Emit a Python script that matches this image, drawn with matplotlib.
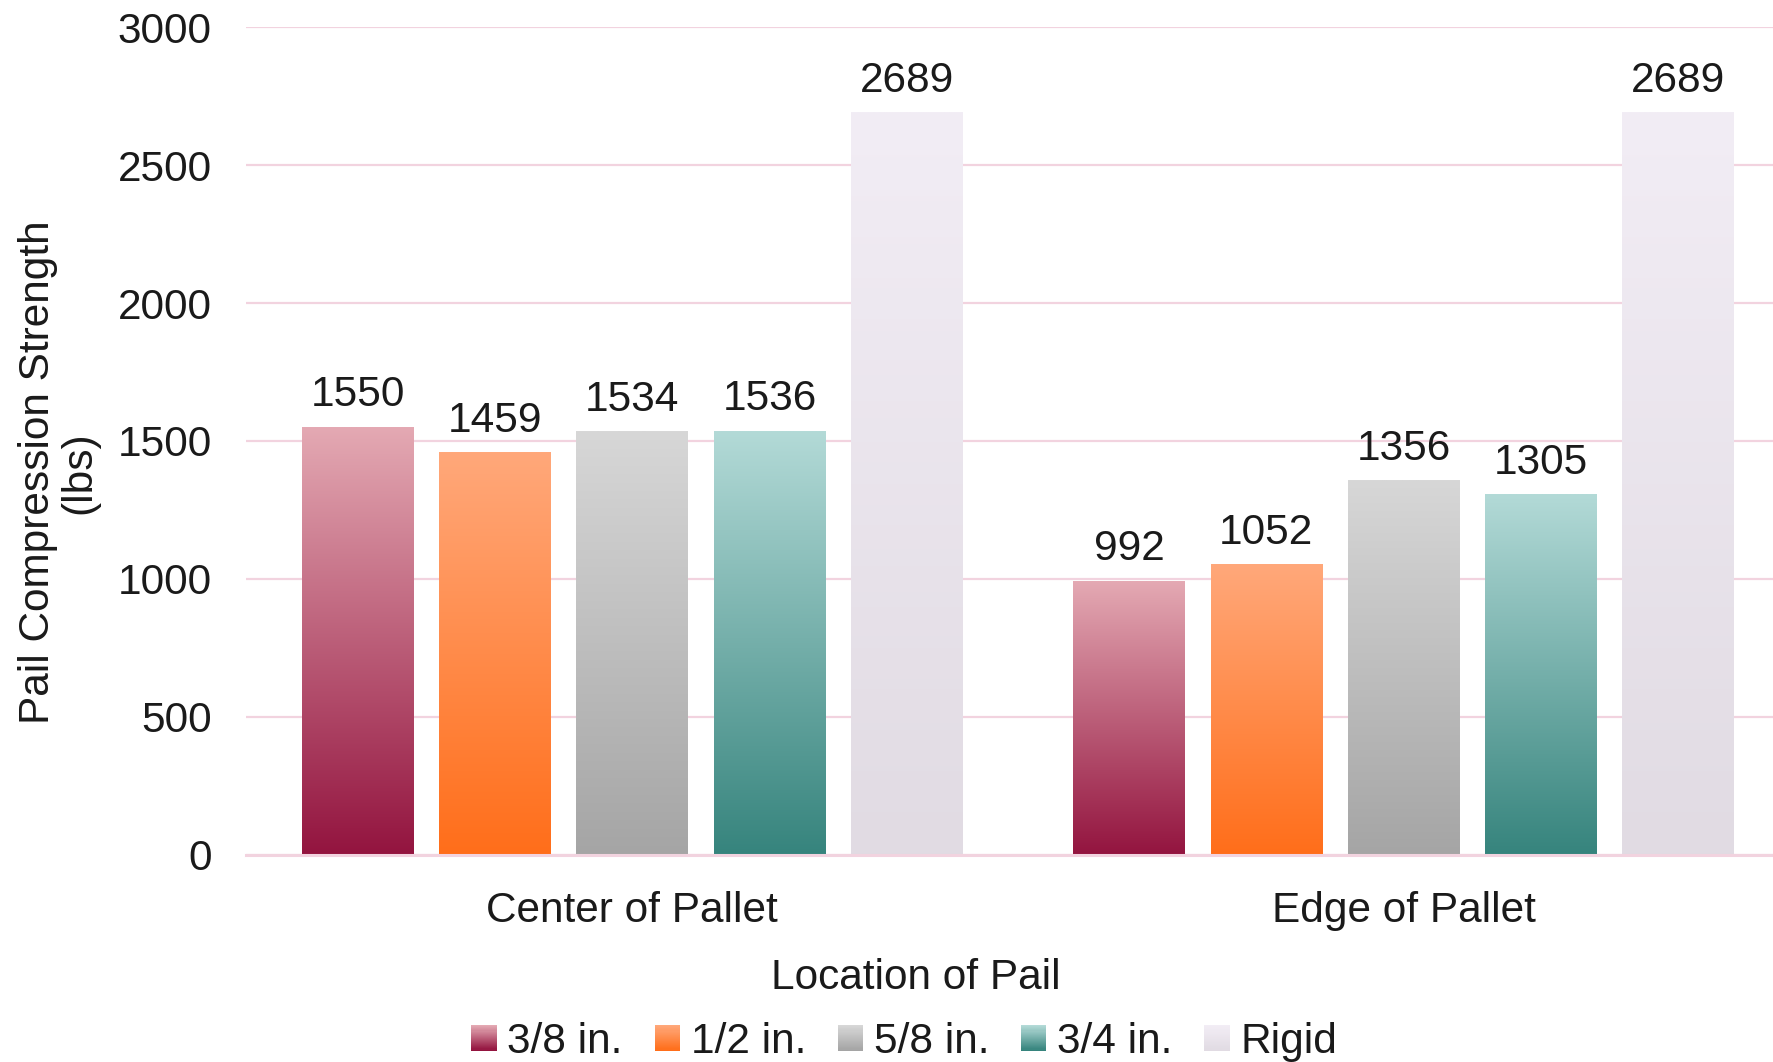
import numpy as np
import matplotlib
matplotlib.use("Agg")
import matplotlib.pyplot as plt
from matplotlib.colors import LinearSegmentedColormap, to_rgb
from matplotlib.legend_handler import HandlerBase
from matplotlib.patches import Rectangle

plt.rcParams['font.family'] = ['Liberation Sans', 'DejaVu Sans']

# Data
locations = ["Center of Pallet", "Edge of Pallet"]
series = ["3/8 in.", "1/2 in.", "5/8 in.", "3/4 in.", "Rigid"]
values = {
    "3/8 in.": [1550, 992],
    "1/2 in.": [1459, 1052],
    "5/8 in.": [1534, 1356],
    "3/4 in.": [1536, 1305],
    "Rigid":   [2689, 2689],
}
yticks = [0, 500, 1000, 1500, 2000, 2500, 3000]

# Gradient endpoints (top, bottom) for each series
gradients = {
    "3/8 in.": ("#E4A9B3", "#93143F"),
    "1/2 in.": ("#FFA87A", "#FF6E1A"),
    "5/8 in.": ("#D7D7D7", "#A5A5A5"),
    "3/4 in.": ("#B3DAD7", "#36847D"),
    "Rigid":   ("#F2EDF5", "#E1DBE3"),
}

GRID = "#F2D3DF"
TXT = "#1a1a1a"
FS = 30.5

fig = plt.figure(figsize=(17.73, 10.62), dpi=100)
ax = fig.add_axes([0.139, 0.195, 0.861, 0.7795])

bar_w = 0.1444
step = 0.178
x = np.arange(len(locations))

for i, s in enumerate(series):
    top_c, bot_c = gradients[s]
    cmap = LinearSegmentedColormap.from_list(s, [bot_c, top_c])
    grad = np.linspace(0, 1, 256).reshape(-1, 1)
    for j, v in enumerate(values[s]):
        xc = x[j] + (i - 2) * step
        ax.imshow(grad, cmap=cmap, origin="lower", aspect="auto",
                  extent=[xc - bar_w / 2, xc + bar_w / 2, 0, v], zorder=2,
                  interpolation="bilinear")
        ax.annotate(f"{v}", (xc, v), xytext=(0, 8.5), textcoords="offset points",
                    ha="center", va="bottom", fontsize=FS, color=TXT)

ax.set_xlim(-0.5, 1.479)
ax.set_ylim(0, 3000)
ax.set_yticks(yticks)
ax.set_yticklabels([str(t) for t in yticks], fontsize=FS, color=TXT)
ax.set_xticks(x)
ax.set_xticklabels(locations, fontsize=FS, color=TXT)
ax.tick_params(axis="both", length=0)
ax.tick_params(axis="x", pad=26)
ax.tick_params(axis="y", pad=25)
ax.yaxis.grid(True, color=GRID, linewidth=1.6, zorder=0)
ax.set_axisbelow(True)
for sp in ["top", "right", "left"]:
    ax.spines[sp].set_visible(False)
ax.spines["bottom"].set_color(GRID)
ax.spines["bottom"].set_linewidth(2.2)
ax.spines["bottom"].set_zorder(3)

ax.set_xlabel("Location of Pail", fontsize=FS, color=TXT)
ax.xaxis.set_label_coords(0.5166, 0.0788, transform=fig.transFigure)
ax.xaxis.label.set_va("center")
ax.set_ylabel("Pail Compression Strength\n(lbs)", fontsize=FS, color=TXT,
              linespacing=1.05)
ax.yaxis.set_label_coords(-0.0963, 0.462)


class GradientHandler(HandlerBase):
    def __init__(self, top, bot, n=24):
        super().__init__()
        self.top = np.array(to_rgb(top))
        self.bot = np.array(to_rgb(bot))
        self.n = n

    def create_artists(self, legend, orig_handle, xdescent, ydescent,
                       width, height, fontsize, trans):
        artists = []
        size = min(width, height)
        x0 = -xdescent + (width - size)
        y0 = -ydescent + (height - size) / 2
        h = size / self.n
        for k in range(self.n):
            t = k / (self.n - 1)
            c = self.bot * (1 - t) + self.top * t
            r = Rectangle((x0, y0 + k * h), size, h * 1.05, facecolor=c,
                          edgecolor="none", transform=trans)
            artists.append(r)
        return artists


handles = [Rectangle((0, 0), 1, 1) for _ in series]
handler_map = {h: GradientHandler(*gradients[s]) for h, s in zip(handles, series)}
leg = fig.legend(handles, series, loc="center", ncol=5, frameon=False,
                 fontsize=FS, bbox_to_anchor=(0.51, 0.019), handler_map=handler_map,
                 handlelength=0.6, handleheight=0.6, handletextpad=0.25,
                 columnspacing=0.75, labelcolor=TXT)

fig.savefig("out.png", dpi=100)
